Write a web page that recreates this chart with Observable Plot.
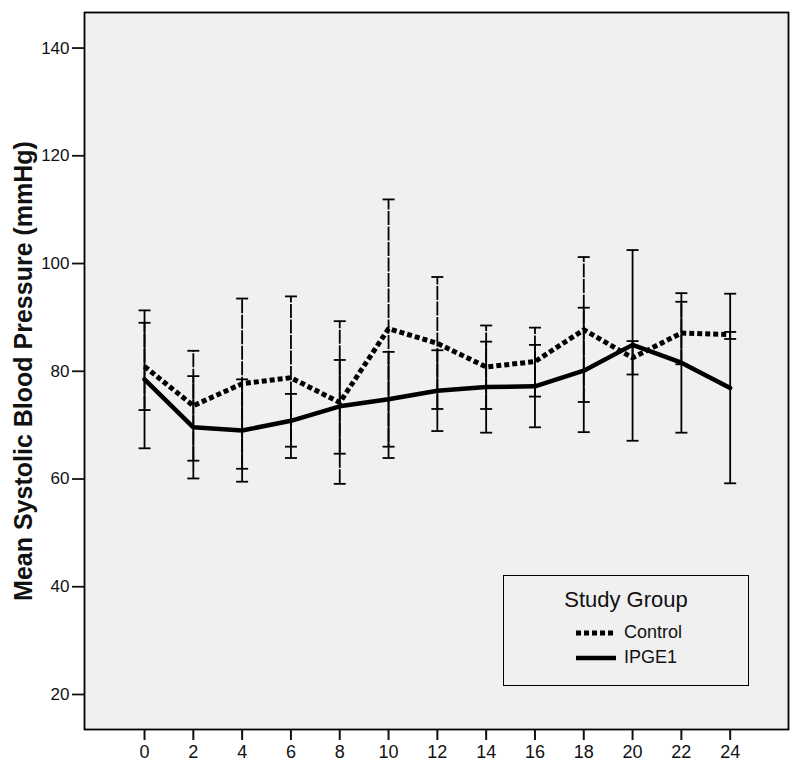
<!DOCTYPE html>
<html>
<head>
<meta charset="utf-8">
<script src="https://cdn.jsdelivr.net/npm/d3@7"></script>
<script src="https://cdn.jsdelivr.net/npm/@observablehq/plot@0.6"></script>
<style>
  html, body { margin: 0; padding: 0; background: #fff; }
  #wrap { position: relative; width: 800px; height: 771px; font-family: "Liberation Sans", Arial, sans-serif; }
  #legend { position: absolute; left: 503px; top: 575px; width: 246px; height: 111px; border: 1.5px solid #000; box-sizing: border-box; background: #f0f0f0; }
  #legend .title { position: absolute; left: 0; width: 100%; top: 11px; text-align: center; font-size: 22px; color: #111; }
  #legend .item { position: absolute; left: 72px; font-size: 18px; color: #111; }
  #legend svg { position: absolute; left: 72px; }
</style>
</head>
<body>
<div id="wrap">
  <div id="chart"></div>
  <div id="legend">
    <div class="title">Study Group</div>
    <svg width="42" height="60" style="top:48px">
      <line x1="0" x2="40" y1="9" y2="9" stroke="#000" stroke-width="5" stroke-dasharray="5,3"></line>
      <line x1="0" x2="40" y1="34" y2="34" stroke="#000" stroke-width="4.5"></line>
    </svg>
    <div class="item" style="left:120px; top:46px">Control</div>
    <div class="item" style="left:120px; top:71px">IPGE1</div>
  </div>
</div>
<script>
const hours = [0, 2, 4, 6, 8, 10, 12, 14, 16, 18, 20, 22, 24];
const controlMean = [80.9, 73.6, 77.7, 78.8, 74.2, 87.9, 85.2, 80.8, 81.8, 87.7, 82.5, 87.1, 86.8];
const controlLow  = [72.8, 63.4, 61.9, 63.9, 59.1, 63.9, 73.0, 73.0, 75.3, 74.3, 79.4, 81.3, 86.0];
const controlHigh = [89.0, 83.8, 93.5, 93.9, 89.3, 111.9, 97.5, 88.5, 88.1, 101.2, 85.6, 92.9, 87.3];
const ipgeMean = [78.5, 69.6, 69.0, 70.8, 73.5, 74.8, 76.4, 77.1, 77.2, 80.1, 84.9, 81.6, 76.9];
const ipgeLow  = [65.7, 60.1, 59.5, 66.0, 64.7, 66.0, 68.9, 68.6, 69.6, 68.7, 67.1, 68.6, 59.2];
const ipgeHigh = [91.3, 79.1, 78.5, 75.8, 82.1, 83.6, 83.9, 85.5, 84.9, 91.8, 102.5, 94.5, 94.4];
const yTicks = [20, 40, 60, 80, 100, 120, 140];
const xTicks = hours;

const control = hours.map((h, i) => ({hour: h, mean: controlMean[i], lo: controlLow[i], hi: controlHigh[i]}));
const ipge = hours.map((h, i) => ({hour: h, mean: ipgeMean[i], lo: ipgeLow[i], hi: ipgeHigh[i]}));

const cap = {draw(context, size) { context.moveTo(-6, 0); context.lineTo(6, 0); }};

function bars(data, dash) {
  return [
    Plot.ruleX(data, {x: "hour", y1: "lo", y2: "hi", stroke: "#000", strokeWidth: 1.8, strokeDasharray: dash, strokeLinecap: "butt"}),
    Plot.dot(data, {x: "hour", y: "lo", symbol: cap, fill: "none", stroke: "#000", strokeWidth: 1.8, r: 4.5}),
    Plot.dot(data, {x: "hour", y: "hi", symbol: cap, fill: "none", stroke: "#000", strokeWidth: 1.8, r: 4.5})
  ];
}

const chart = Plot.plot({
  width: 800,
  height: 771,
  marginLeft: 84,
  marginRight: 12,
  marginTop: 12,
  marginBottom: 42,
  style: {fontFamily: "'Liberation Sans', Arial, sans-serif", background: "#fff", color: "#111"},
  x: {domain: [-2.46, 26.39]},
  y: {domain: [13.5, 146.6]},
  marks: [
    Plot.frame({fill: "#f0f0f0"}),
    Plot.axisY({ticks: yTicks, tickSize: 12, tickPadding: 3, fontSize: 17, strokeWidth: 1.8,
      label: "Mean Systolic Blood Pressure (mmHg)", labelAnchor: "center", labelArrow: "none", labelOffset: 70}),
    Plot.axisX({ticks: xTicks, tickSize: 11, tickPadding: 5, fontSize: 18, strokeWidth: 2, label: null}),
    ...bars(control, "14,1.5"),
    ...bars(ipge, null),
    Plot.line(control, {x: "hour", y: "mean", stroke: "#000", strokeWidth: 5, strokeDasharray: "5 3", strokeLinecap: "butt", strokeLinejoin: "miter"}),
    Plot.line(ipge, {x: "hour", y: "mean", stroke: "#000", strokeWidth: 4.5}),
    Plot.frame({stroke: "#000", strokeWidth: 1.8})
  ]
});
document.getElementById("chart").appendChild(chart);
// bold y-axis label
chart.querySelectorAll("g[aria-label='y-axis label'] text").forEach(t => {
  t.setAttribute("font-weight", "bold");
  t.setAttribute("font-size", "25");
});
</script>
</body>
</html>
